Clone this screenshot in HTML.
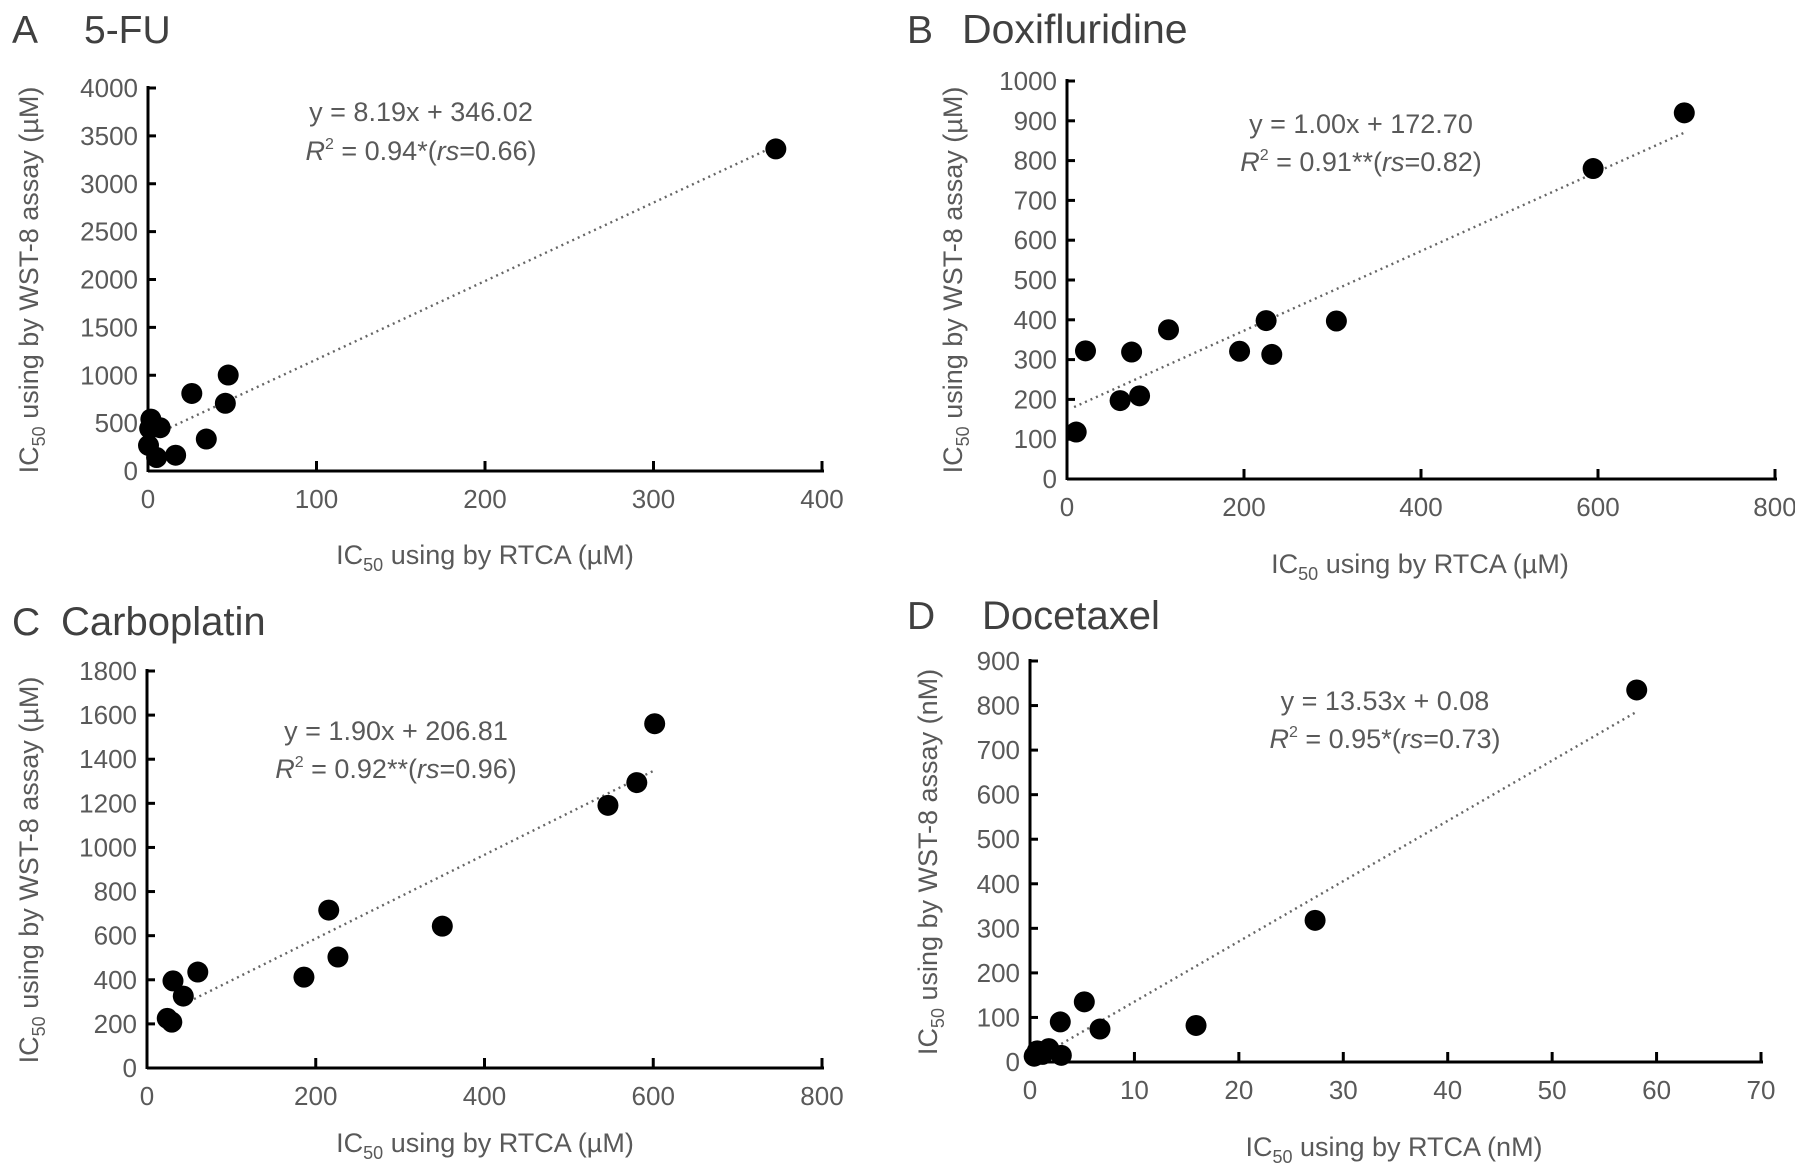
<!DOCTYPE html>
<html><head><meta charset="utf-8"><style>
html,body{margin:0;padding:0;background:#fff;}
svg{display:block;font-family:"Liberation Sans",sans-serif;}
</style></head><body>
<svg id="fig" width="1795" height="1172" viewBox="0 0 1795 1172"></svg>
<script>
const aX=[372.6,47.6,26,45.9,34.6,16.4,5.1,1.7,7.2,0.3,1];
const aY=[3364,1002,810,707,334,165,141,542,452,267,444];
const aTrend=[8.19,346.02];
const aXTicks=[0,100,200,300,400];
const aYTicks=[0,500,1000,1500,2000,2500,3000,3500,4000];

const bX=[697.5,594.5,304.4,225,231.4,195,114.7,73,20.9,82,60,10.4];
const bY=[920,780,397,398,313,321,375,319,322,209,197,118];
const bTrend=[1.00,172.70];
const bXTicks=[0,200,400,600,800];
const bYTicks=[0,100,200,300,400,500,600,700,800,900,1000];

const cX=[601.7,580.5,546.3,350,215.4,226.3,186,60.2,30.8,43,24,29.4];
const cY=[1561,1294,1191,643,716,503,412,435,395,326,225,208];
const cTrend=[1.90,206.81];
const cXTicks=[0,200,400,600,800];
const cYTicks=[0,200,400,600,800,1000,1200,1400,1600,1800];

const dX=[58.1,27.3,15.9,5.2,2.9,6.7,0.7,1.8,1.2,3.0,0.4];
const dY=[835,318,82,135,90,74,25,30,17,15,13];
const dTrend=[13.53,0.08];
const dXTicks=[0,10,20,30,40,50,60,70];
const dYTicks=[0,100,200,300,400,500,600,700,800,900];

const NS="http://www.w3.org/2000/svg";
const svg=document.getElementById('fig');
function mk(tag,attrs,parent){const e=document.createElementNS(NS,tag);for(const k in attrs)e.setAttribute(k,attrs[k]);(parent||svg).appendChild(e);return e;}

function panel(p){
  const g=mk('g',{});
  
  
  const xMax=p.xt[p.xt.length-1], yMax=p.yt[p.yt.length-1];
  const sx=v=>p.x0+(v/xMax)*(p.x1-p.x0);
  const sy=v=>p.y0-(v/yMax)*(p.y0-p.y1);
  const t1=mk('text',{x:p.tl[0],y:p.tl[2],'font-size':39,fill:'#404040'},g);t1.textContent=p.id.toUpperCase();
  
  const t2=mk('text',{x:p.tl[1],y:p.tl[2],'font-size':p.tfs,fill:'#404040'},g);t2.textContent=p.title;
  
  const ax=mk('line',{x1:p.x0,y1:p.y0,x2:p.x1+2,y2:p.y0,stroke:'#000','stroke-width':3},g);
  
  const ay=mk('line',{x1:p.x0,y1:p.y0+1,x2:p.x0,y2:p.y1-2,stroke:'#000','stroke-width':3},g);
  
  p.xt.forEach(v=>{
    const X=sx(v);
    if(v>0){const tk=mk('line',{x1:X,y1:p.y0,x2:X,y2:p.y0-10,stroke:'#000','stroke-width':3},g);
    }
    const tl=mk('text',{x:X,y:p.y0+37,'font-size':26,fill:'#595959','text-anchor':'middle'},g);tl.textContent=v;
    
  });
  p.yt.forEach(v=>{
    const Y=sy(v);
    const tk=mk('line',{x1:p.x0,y1:Y,x2:p.x0+8,y2:Y,stroke:'#000','stroke-width':3},g);
    
    const tl=mk('text',{x:p.x0-10,y:Y+9,'font-size':26,fill:'#595959','text-anchor':'end'},g);tl.textContent=v;
    
  });
  const xl=mk('text',{x:p.xl[0],y:p.xl[1],'font-size':27,fill:'#595959','text-anchor':'middle'},g);
  xl.innerHTML='IC<tspan font-size="18" dy="7">50</tspan><tspan dy="-7"> using by RTCA ('+p.unit+')</tspan>';
  
  const yl=mk('text',{x:0,y:0,'font-size':27,fill:'#595959','text-anchor':'middle',transform:'translate('+p.yl[0]+','+p.yl[1]+') rotate(-90)'},g);
  yl.innerHTML='IC<tspan font-size="18" dy="7">50</tspan><tspan dy="-7"> using by WST-8 assay ('+p.unit+')</tspan>';
  
  const xs=p.xs, ys=p.ys;
  const lo=p.trLo, hi=Math.max(...xs);
  const tr=mk('line',{x1:sx(lo),y1:sy(p.tr[0]*lo+p.tr[1]),x2:sx(hi),y2:sy(p.tr[0]*hi+p.tr[1]),stroke:'#666','stroke-width':2.4,'stroke-dasharray':'2 4'},g);
  
  xs.forEach((v,i)=>{
    const c=mk('circle',{cx:sx(v),cy:sy(ys[i]),r:10.5,fill:'#000'},g);
    
    
  });
  const e1=mk('text',{x:p.eq[0],y:p.eq[1],'font-size':27,fill:'#595959','text-anchor':'middle'},g);
  e1.textContent='y = '+p.tr[0].toFixed(2)+'x + '+p.tr[1].toFixed(2);
  
  const e2=mk('text',{x:p.eq[0],y:p.eq[2],'font-size':27,fill:'#595959','text-anchor':'middle'},g);
  e2.innerHTML='<tspan font-style="italic">R</tspan><tspan font-size="16" dy="-11">2</tspan><tspan dy="11"> = '+p.r2+'(</tspan><tspan font-style="italic">rs</tspan>=' + p.rs + ')';
  
}

panel({id:'a',title:'5-FU',tfs:39,tl:[12,84,43],x0:148,x1:822,y0:471,y1:88,xt:aXTicks,yt:aYTicks,xs:aX,ys:aY,tr:aTrend,trLo:0,unit:'µM',xl:[485,564],yl:[38,280],eq:[421,121,160],r2:'0.94*',rs:'0.66'});
panel({id:'b',title:'Doxifluridine',tfs:41,tl:[907,962,43],x0:1067,x1:1775,y0:479,y1:81,xt:bXTicks,yt:bYTicks,xs:bX,ys:bY,tr:bTrend,trLo:8,unit:'µM',xl:[1420,573],yl:[962,280],eq:[1361,133,171],r2:'0.91**',rs:'0.82'});
panel({id:'c',title:'Carboplatin',tfs:40,tl:[12,61,635],x0:147,x1:822,y0:1068,y1:671,xt:cXTicks,yt:cYTicks,xs:cX,ys:cY,tr:cTrend,trLo:43,unit:'µM',xl:[485,1152],yl:[38,870],eq:[396,740,778],r2:'0.92**',rs:'0.96'});
panel({id:'d',title:'Docetaxel',tfs:40,tl:[907,982,629],x0:1030,x1:1761,y0:1062,y1:661,xt:dXTicks,yt:dYTicks,xs:dX,ys:dY,tr:dTrend,trLo:2,unit:'nM',xl:[1394,1156],yl:[937,862],eq:[1385,710,748],r2:'0.95*',rs:'0.73'});
</script>
</body></html>
